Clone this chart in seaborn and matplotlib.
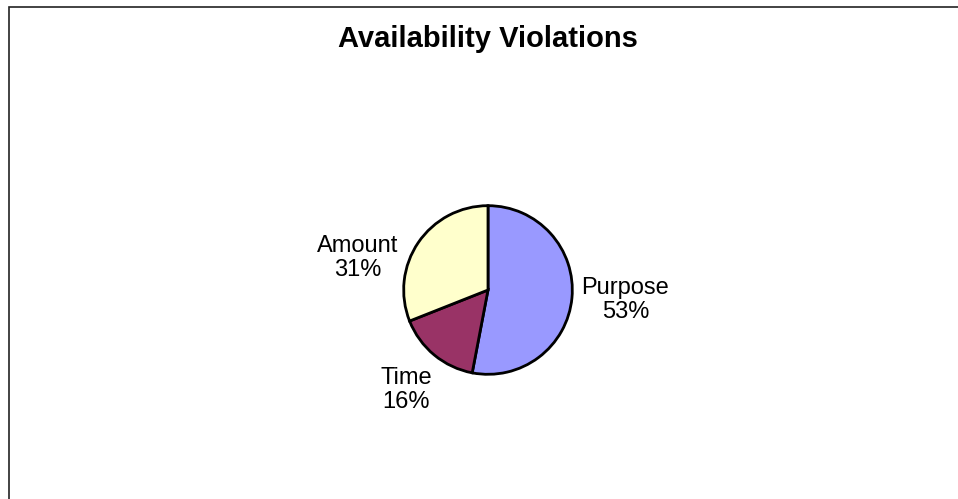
import matplotlib
matplotlib.use("Agg")
import matplotlib.pyplot as plt
import seaborn as sns
from matplotlib.patches import Rectangle

# data
categories = ["Purpose", "Time", "Amount"]
shares = [53, 16, 31]
colors = ["#9999FF", "#993366", "#FFFFCC"]

# label positions (pie radius units)
label_pos = [(1.63, -0.12), (-0.97, -1.19), (-1.55, 0.38)]

sns.set_style("white")
plt.rcParams['font.family'] = ['Liberation Sans', 'DejaVu Sans']
plt.rcParams['text.color'] = 'black'

W, H = 958, 499
fig = plt.figure(figsize=(W / 100, H / 100), dpi=100)

# chart border
fig.patches.append(Rectangle((8.5 / W, -0.1), 1.2, 1.1 - 6.5 / H, transform=fig.transFigure,
                             fill=False, edgecolor="#222222", linewidth=1.2))

fig.text(488 / W, 1 - 39 / H, "Availability Violations", ha="center", va="center",
         fontsize=21, fontweight="bold")

cx, cy, r = 488, 290, 86
ax = fig.add_axes([(cx - r) / W, 1 - (cy + r) / H, 2 * r / W, 2 * r / H])
ax.pie(shares, colors=colors, startangle=90, counterclock=False,
       wedgeprops=dict(edgecolor="black", linewidth=2))
ax.set_xlim(-1.02, 1.02)
ax.set_ylim(-1.02, 1.02)

for name, val, (x, y) in zip(categories, shares, label_pos):
    ax.text(x, y, "{}\n{}%".format(name, val), ha="center", va="center",
            multialignment="center", fontsize=17, linespacing=1.1, clip_on=False)

fig.savefig("out.png", dpi=100)
